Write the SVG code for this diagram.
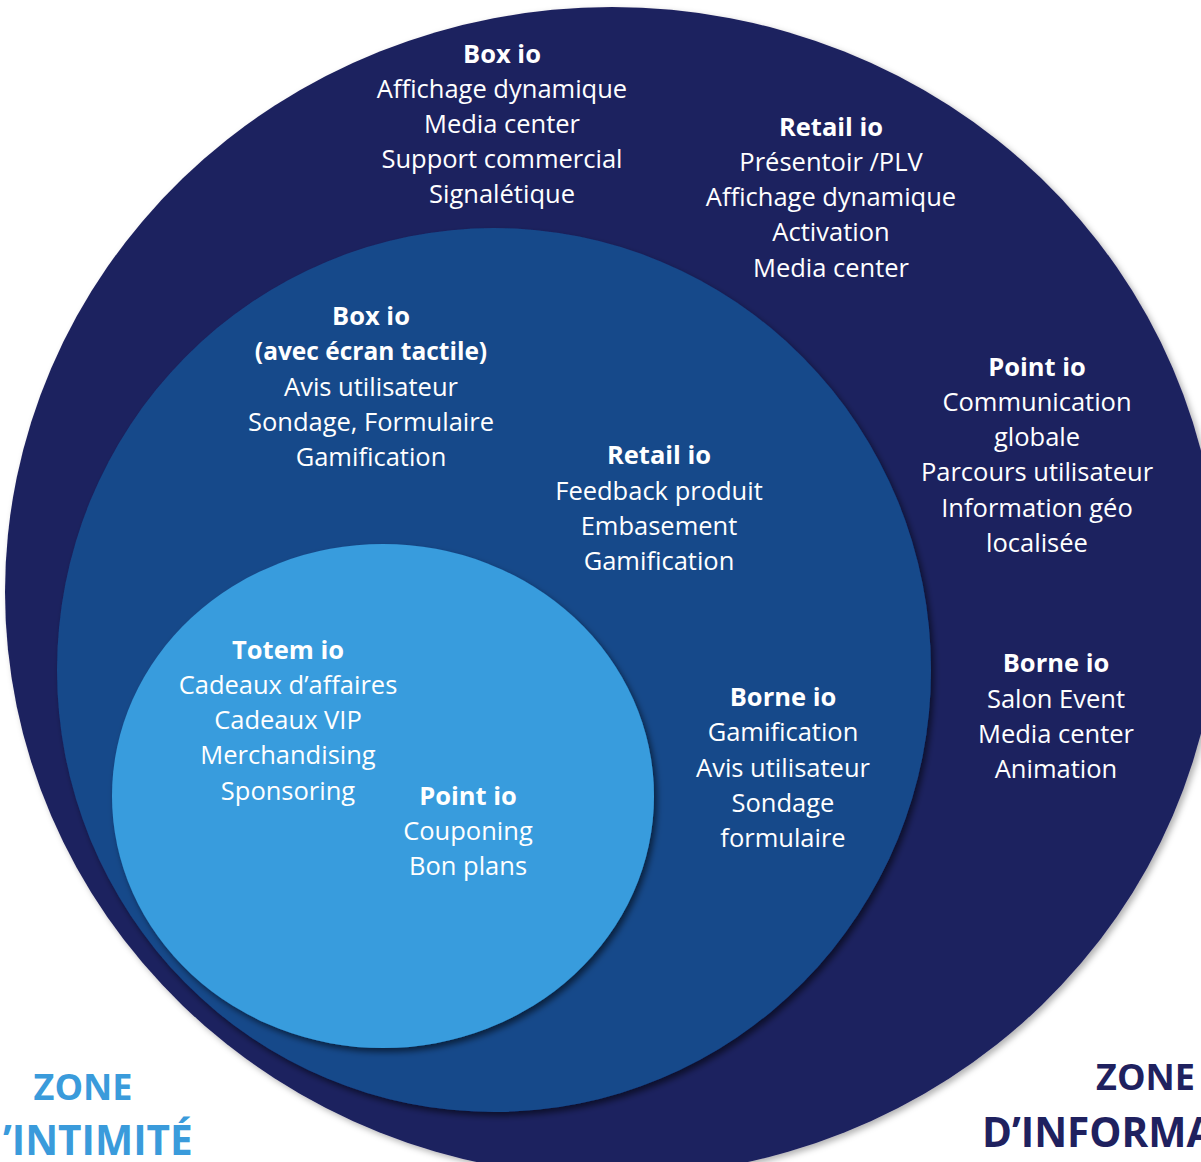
<svg xmlns="http://www.w3.org/2000/svg" width="1201" height="1162" viewBox="0 0 1201 1162">
<defs>
<style>
.t{font-family:"Open Sans","Noto Sans","Liberation Sans",sans-serif;font-size:25.5px;fill:#ffffff;text-anchor:middle}
.b{font-weight:700}
.z{font-family:"Open Sans","Noto Sans","Liberation Sans",sans-serif;font-size:36px;font-weight:700}
.z2{font-size:40.5px}
</style>
<filter id="sh" x="-10%" y="-10%" width="120%" height="120%">
<feDropShadow dx="3" dy="4" stdDeviation="3" flood-color="#000000" flood-opacity="0.55"/>
</filter>
<filter id="sh2" x="-10%" y="-10%" width="120%" height="120%">
<feDropShadow dx="3" dy="3" stdDeviation="3" flood-color="#000000" flood-opacity="0.3"/>
</filter>
</defs>
<rect width="1201" height="1162" fill="#ffffff"/>
<g id="zone-info-circle">
<ellipse cx="612" cy="592" rx="607" ry="585" fill="#1F215F" filter="url(#sh2)"/>
</g>
<g id="zone-middle-circle">
<ellipse cx="494" cy="670" rx="437" ry="442" fill="#16488A" filter="url(#sh)"/>
</g>
<g id="zone-intimite-circle">
<ellipse cx="383" cy="796" rx="271" ry="252" fill="#389CDD" filter="url(#sh)"/>
</g>
<g id="connectors"></g>
<g id="outer-box-io">
<text class="t"><tspan class="b" x="502" y="63">Box io</tspan><tspan x="502" y="98">Affichage dynamique</tspan><tspan x="502" y="133">Media center</tspan><tspan x="502" y="168">Support commercial</tspan><tspan x="502" y="203">Signalétique</tspan></text>
</g>
<g id="outer-retail-io">
<text class="t"><tspan class="b" x="831" y="136">Retail io</tspan><tspan x="831" y="171">Présentoir /PLV</tspan><tspan x="831" y="206">Affichage dynamique</tspan><tspan x="831" y="241">Activation</tspan><tspan x="831" y="277">Media center</tspan></text>
</g>
<g id="outer-point-io">
<text class="t"><tspan class="b" x="1037" y="376">Point io</tspan><tspan x="1037" y="411">Communication</tspan><tspan x="1037" y="446">globale</tspan><tspan x="1037" y="481">Parcours utilisateur</tspan><tspan x="1037" y="517">Information géo</tspan><tspan x="1037" y="552">localisée</tspan></text>
</g>
<g id="outer-borne-io">
<text class="t"><tspan class="b" x="1056" y="672">Borne io</tspan><tspan x="1056" y="708">Salon Event</tspan><tspan x="1056" y="743">Media center</tspan><tspan x="1056" y="778">Animation</tspan></text>
</g>
<g id="middle-box-io">
<text class="t"><tspan class="b" x="371" y="325">Box io</tspan><tspan class="b" x="371" y="360" style="font-size:24.5px">(avec écran tactile)</tspan><tspan x="371" y="396">Avis utilisateur</tspan><tspan x="371" y="431">Sondage, Formulaire</tspan><tspan x="371" y="466">Gamification</tspan></text>
</g>
<g id="middle-retail-io">
<text class="t"><tspan class="b" x="659" y="464">Retail io</tspan><tspan x="659" y="500">Feedback produit</tspan><tspan x="659" y="535">Embasement</tspan><tspan x="659" y="570">Gamification</tspan></text>
</g>
<g id="middle-borne-io">
<text class="t"><tspan class="b" x="783" y="706">Borne io</tspan><tspan x="783" y="741">Gamification</tspan><tspan x="783" y="777">Avis utilisateur</tspan><tspan x="783" y="812">Sondage</tspan><tspan x="783" y="847">formulaire</tspan></text>
</g>
<g id="inner-totem-io">
<text class="t"><tspan class="b" x="288" y="659">Totem io</tspan><tspan x="288" y="694">Cadeaux d’affaires</tspan><tspan x="288" y="729">Cadeaux VIP</tspan><tspan x="288" y="764">Merchandising</tspan><tspan x="288" y="800">Sponsoring</tspan></text>
</g>
<g id="inner-point-io">
<text class="t"><tspan class="b" x="468" y="805">Point io</tspan><tspan x="468" y="840">Couponing</tspan><tspan x="468" y="875">Bon plans</tspan></text>
</g>
<g id="label-zone-intimite">
<text class="z" fill="#3A9BDB" text-anchor="middle" x="83" y="1100">ZONE</text>
<text class="z z2" fill="#3A9BDB" x="3" y="1155">’INTIMITÉ</text>
</g>
<g id="label-zone-information">
<text class="z" fill="#1F215F" text-anchor="end" x="1195" y="1090">ZONE</text>
<text class="z z2" fill="#1F215F" x="982" y="1147">D’INFORMA</text>
</g>
</svg>
